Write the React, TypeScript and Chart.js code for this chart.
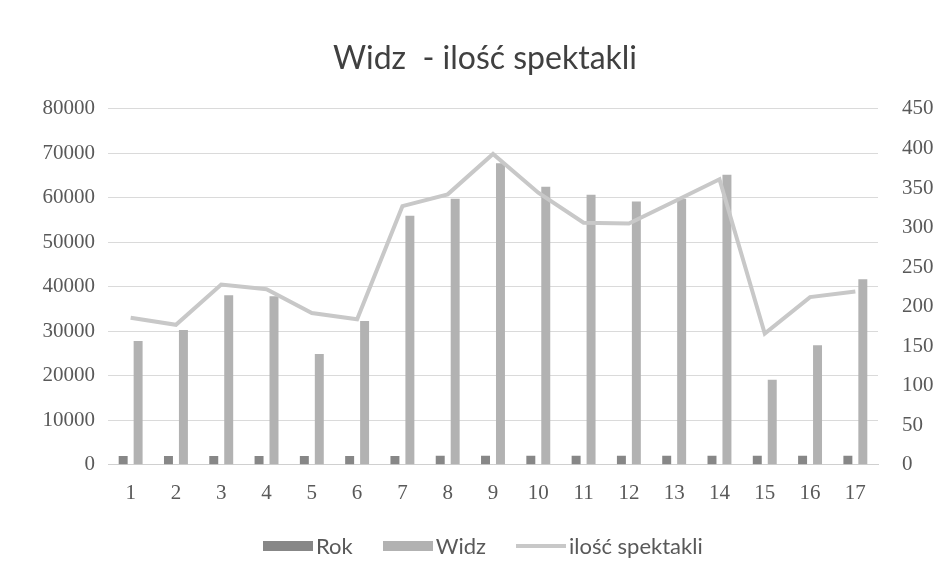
import React, { useEffect, useRef } from "react";
import { Chart, registerables } from "chart.js";

Chart.register(...registerables);

const categories = ["1", "2", "3", "4", "5", "6", "7", "8", "9", "10", "11", "12", "13", "14", "15", "16", "17"];
const rok = [2000, 2001, 2002, 2003, 2004, 2005, 2006, 2007, 2008, 2009, 2010, 2011, 2012, 2013, 2014, 2015, 2016];
const widz = [27800, 30300, 38100, 37900, 24900, 32300, 56000, 59800, 67800, 62500, 60700, 59200, 59800, 65200, 19100, 26900, 41700];
const spektakle = [186, 177, 228, 222, 192, 184, 327, 342, 393, 344, 306, 305, 333, 361, 166, 212, 219];

const titleText = "Widz  - ilość spektakli";
const seriesNames = ["Rok", "Widz", "ilość spektakli"];
const seriesColors = ["#878787", "#b2b2b2", "#c8c8c8"];

export default function App() {
  const ref = useRef<HTMLCanvasElement | null>(null);

  useEffect(() => {
    if (!ref.current) return;
    const tickFont = { family: "'Liberation Serif', serif", size: 21 };
    const plain = (v: any) => String(v);
    const chart = new Chart(ref.current, {
      type: "bar",
      data: {
        labels: categories,
        datasets: [
          {
            type: "bar",
            label: seriesNames[0],
            data: rok,
            backgroundColor: seriesColors[0],
            yAxisID: "y",
            categoryPercentage: 0.66,
            barPercentage: 0.6,
            order: 1,
          },
          {
            type: "bar",
            label: seriesNames[1],
            data: widz,
            backgroundColor: seriesColors[1],
            yAxisID: "y",
            categoryPercentage: 0.66,
            barPercentage: 0.6,
            order: 1,
          },
          {
            type: "line",
            label: seriesNames[2],
            data: spektakle,
            borderColor: seriesColors[2],
            backgroundColor: seriesColors[2],
            borderWidth: 4,
            pointRadius: 0,
            tension: 0,
            yAxisID: "y1",
            order: 0,
          },
        ],
      },
      options: {
        responsive: false,
        animation: false,
        layout: { padding: { left: 26, right: 0, top: 0, bottom: 58 } },
        plugins: {
          tooltip: { enabled: false },
          legend: { display: false },
          title: {
            display: true,
            text: titleText,
            color: "#404040",
            font: { family: "Lato, sans-serif", size: 32, weight: "normal" },
            padding: { top: 39, bottom: 31.5 },
          },
        },
        scales: {
          x: {
            grid: { display: false, drawTicks: false },
            border: { display: true, color: "#d0d0d0" },
            ticks: { color: "#595959", font: tickFont, padding: 16, maxRotation: 0 },
          },
          y: {
            position: "left",
            min: 0,
            max: 80000,
            ticks: { stepSize: 10000, color: "#595959", font: tickFont, padding: 13, callback: plain },
            grid: { color: "#dadada", drawTicks: false },
            border: { display: false },
            afterFit: (s: any) => {
              s.width = 82;
            },
          },
          y1: {
            position: "right",
            min: 0,
            max: 450,
            ticks: { stepSize: 50, color: "#595959", font: tickFont, padding: 24, callback: plain },
            grid: { display: false, drawTicks: false },
            border: { display: false },
            afterFit: (s: any) => {
              s.width = 66;
            },
          },
        },
      },
    });
    return () => chart.destroy();
  }, []);

  const legendItems = seriesNames.map((name, i) => ({
    name,
    color: seriesColors[i],
    isLine: i === 2,
  }));

  return (
    <div style={{ position: "absolute", left: 0, top: 0, width: 944, height: 580, background: "#fff" }}>
      <canvas ref={ref} width={944} height={580} style={{ display: "block" }} />
      <div
        style={{
          position: "absolute",
          left: 263,
          top: 533,
          height: 26,
          display: "flex",
          alignItems: "center",
          fontFamily: "Lato, sans-serif",
          fontSize: 22,
          lineHeight: "26px",
          color: "#595959",
          whiteSpace: "nowrap",
        }}
      >
        {legendItems.map((it, i) => (
          <div key={it.name} style={{ display: "flex", alignItems: "center", marginLeft: i === 0 ? 0 : 30 }}>
            <span
              style={{
                display: "inline-block",
                width: 50,
                height: it.isLine ? 4 : 10,
                background: it.color,
                marginRight: 3,
              }}
            />
            <span>{it.name}</span>
          </div>
        ))}
      </div>
    </div>
  );
}
